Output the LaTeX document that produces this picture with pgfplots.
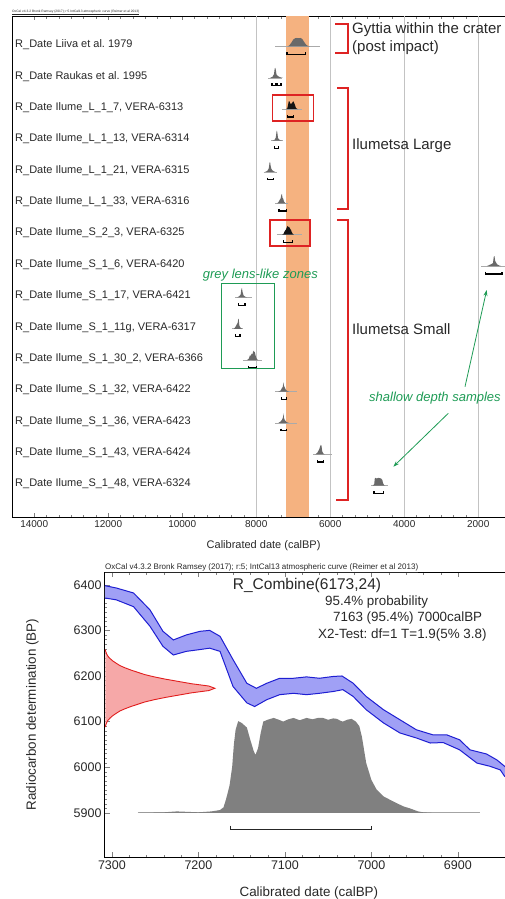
\documentclass[border=0pt]{standalone}
\usepackage{fontspec}
\setmainfont{Liberation Sans}
\usepackage{graphicx}
\usepackage{pgfplots}
\usepackage{pgfplotstable}
\pgfplotsset{compat=1.18}
\usetikzlibrary{arrows.meta}
\frenchspacing
\definecolor{bandorange}{RGB}{245,178,128}
\definecolor{distgray}{RGB}{105,105,105}
\definecolor{basegray}{RGB}{170,170,170}
\definecolor{gridgray}{RGB}{195,195,195}
\definecolor{brred}{RGB}{222,35,35}
\definecolor{grn}{RGB}{30,155,85}
\definecolor{calblue}{RGB}{30,30,210}
\definecolor{calfill}{RGB}{160,160,245}
\definecolor{redline}{RGB}{225,30,30}
\definecolor{redfill}{RGB}{246,168,168}
\definecolor{combgray}{RGB}{128,128,128}
\definecolor{txt}{RGB}{40,40,40}

% calibration band: upper edge (rows 0-32) then lower edge reversed (rows 33-65)
\pgfplotstableread{
x y
7308 6398
7295 6393
7275 6382
7256 6345
7241 6298
7229 6279
7214 6290
7198 6298
7187 6300
7175 6287
7160 6236
7144 6184
7133 6173
7121 6184
7106 6195
7090 6195
7075 6198
7060 6195
7044 6199
7034 6200
7021 6184
7006 6155
6986 6126
6967 6104
6948 6082
6929 6071
6913 6071
6898 6060
6886 6038
6867 6029
6855 6016
6846 6002
6835 5990
6835 5970
6846 5980
6851 5994
6863 6002
6878 6009
6898 6038
6917 6054
6932 6053
6948 6064
6967 6075
6986 6097
7006 6126
7021 6155
7033 6170
7044 6166
7060 6162
7075 6159
7090 6162
7106 6159
7121 6148
7135 6133
7144 6141
7160 6177
7175 6254
7187 6261
7198 6258
7214 6254
7229 6246
7241 6265
7256 6309
7275 6352
7295 6367
7308 6371
}\calband
\pgfplotstableread{
x y
7307.7 6258
7307 6253
7306 6248
7304.5 6243
7302 6238
7299 6233
7295 6228
7291 6223
7285 6218
7278 6213
7270 6208
7262 6203
7251 6198
7238 6193
7223 6188
7208 6183
7188 6178
7181 6173
7188 6168
7208 6163
7223 6158
7238 6153
7251 6148
7262 6143
7270 6138
7278 6133
7285 6128
7291 6123
7295 6118
7299 6113
7302 6108
7304.5 6103
7306 6098
7307 6093
7307.7 6088
}\redd
\pgfplotstableread{
x y
7270 5900
7240 5901
7225 5903
7200 5901
7185 5903
7175 5906
7171 5912
7168 5930
7164 5960
7161 6000
7159 6050
7157 6082
7154 6101
7150 6097
7144 6087
7140 6060
7136 6035
7134 6027
7131 6042
7128 6075
7125 6100
7120 6104
7113 6108
7107 6104
7102 6100
7096 6105
7090 6108
7083 6103
7075 6108
7068 6105
7062 6108
7056 6108
7050 6104
7044 6107
7040 6106
7036 6102
7033 6100
7028 6104
7023 6106
7018 6100
7014 6090
7011 6067
7006 6009
7000 5972
6994 5951
6986 5936
6975 5925
6963 5914
6956 5910
6946 5903
6940 5901
6930 5900
6875 5900
}\comb

\begin{document}
\begin{tikzpicture}[x=1pt,y=1pt,
  dist/.style={fill=distgray, draw=none},
  distk/.style={fill=black!92, draw=none},
  base/.style={basegray, line width=0.6pt},
  brk/.style={black, line width=1.3pt}]
\path[use as bounding box] (0,0) rectangle (505,-899);

% ---------------- top chart ----------------
\begin{axis}[
  at={(12pt,-517pt)}, anchor=south west,
  scale only axis, width=503.2pt, height=501pt,
  x dir=reverse, xmin=1000, xmax=14600,
  y dir=reverse, ymin=0.08, ymax=16.05,
  xtick={2000,4000,6000,8000,10000,12000,14000},
  scaled x ticks=false,
  minor x tick num=5,
  tick align=inside,
  major tick length=4pt, minor tick length=2.5pt,
  x tick label style={font=\fontsize{10}{12}\selectfont, text=txt, /pgf/number format/set thousands separator={}, /pgf/number format/assume math mode=true},
  ytick={1,...,15},
  yticklabels={
    {R\_Date Liiva et al. 1979},
    {R\_Date Raukas et al. 1995},
    {R\_Date Ilume\_L\_1\_7, VERA-6313},
    {R\_Date Ilume\_L\_1\_13, VERA-6314},
    {R\_Date Ilume\_L\_1\_21, VERA-6315},
    {R\_Date Ilume\_L\_1\_33, VERA-6316},
    {R\_Date Ilume\_S\_2\_3, VERA-6325},
    {R\_Date Ilume\_S\_1\_6, VERA-6420},
    {R\_Date Ilume\_S\_1\_17, VERA-6421},
    {R\_Date Ilume\_S\_1\_11g, VERA-6317},
    {R\_Date Ilume\_S\_1\_30\_2, VERA-6366},
    {R\_Date Ilume\_S\_1\_32, VERA-6422},
    {R\_Date Ilume\_S\_1\_36, VERA-6423},
    {R\_Date Ilume\_S\_1\_43, VERA-6424},
    {R\_Date Ilume\_S\_1\_48, VERA-6324}},
  y tick style={draw=none},
  y tick label style={anchor=west, inner sep=0pt, xshift=3pt, font=\fontsize{11}{13}\selectfont, text=txt},
  xlabel={Calibrated date (calBP)},
  xlabel style={font=\fontsize{11}{13}\selectfont, at={(axis description cs:0.5,-0.058)}, anchor=center, text=txt},
  axis line style={line width=0.8pt},
]
\addplot[fill=bandorange, draw=none] coordinates {(7195,0.08) (6575,0.08) (6575,16.05) (7195,16.05)} -- cycle;
\addplot[gridgray, line width=0.7pt] coordinates {(8000,0.08) (8000,16.05)};
\addplot[gridgray, line width=0.7pt] coordinates {(6000,0.08) (6000,16.05)};
\addplot[gridgray, line width=0.7pt] coordinates {(4000,0.08) (4000,16.05)};
\addplot[gridgray, line width=0.7pt] coordinates {(2000,0.08) (2000,16.05)};

% row 1
\addplot[base] coordinates {(7490,1.05) (6270,1.05)};
\addplot[dist] coordinates {(7150,1.05) (7100,1.01) (7050,0.93) (7000,0.834) (6950,0.79) (6900,0.78) (6850,0.788) (6800,0.78) (6750,0.82) (6700,0.915) (6650,0.996) (6600,1.036) (6550,1.05)} -- cycle;
\addplot[brk] coordinates {(7170,1.23) (7170,1.30) (6676,1.30) (6676,1.23)};
% row 2
\addplot[base] coordinates {(7680,2.05) (7300,2.05)};
\addplot[dist] coordinates {(7620,2.05) (7560,2.018) (7520,1.938) (7500,1.762) (7485,1.73) (7470,1.794) (7450,1.954) (7420,1.986) (7380,2.018) (7330,2.04) (7280,2.05)} -- cycle;
\addplot[brk] coordinates {(7576,2.23) (7576,2.30) (7480,2.30) (7480,2.23)};
\addplot[brk] coordinates {(7440,2.23) (7440,2.30) (7332,2.30) (7332,2.23)};
% row 3
\addplot[base] coordinates {(7305,3.05) (6765,3.05)};
\addplot[distk] coordinates {(7200,3.05) (7160,3.024) (7140,2.92) (7120,2.803) (7105,2.79) (7080,2.868) (7060,2.881) (7040,2.868) (7010,2.816) (6990,2.803) (6960,2.894) (6930,2.998) (6900,3.037) (6870,3.05)} -- cycle;
\addplot[brk] coordinates {(7163,3.23) (7163,3.30) (7000,3.30) (7000,3.23)};
% row 4
\addplot[base] coordinates {(7600,4.05) (7280,4.05)};
\addplot[dist] coordinates {(7560,4.05) (7500,4.024) (7470,3.954) (7450,3.762) (7440,3.73) (7425,3.826) (7410,3.97) (7380,4.018) (7340,4.04) (7300,4.05)} -- cycle;
\addplot[brk] coordinates {(7500,4.23) (7500,4.30) (7390,4.30) (7390,4.23)};
% row 5
\addplot[base] coordinates {(7800,5.05) (7450,5.05)};
\addplot[dist] coordinates {(7760,5.05) (7700,5.018) (7660,4.938) (7640,4.762) (7625,4.73) (7610,4.858) (7590,4.954) (7560,5.002) (7520,5.034) (7480,5.05)} -- cycle;
\addplot[brk] coordinates {(7700,5.23) (7700,5.30) (7540,5.30) (7540,5.23)};
% row 6
\addplot[base] coordinates {(7480,6.05) (7150,6.05)};
\addplot[dist] coordinates {(7440,6.05) (7400,6.02) (7360,5.93) (7340,5.90) (7320,5.78) (7305,5.75) (7290,5.87) (7270,5.90) (7250,5.99) (7220,6.035) (7190,6.05)} -- cycle;
\addplot[brk] coordinates {(7380,6.23) (7380,6.30) (7180,6.30) (7180,6.23)};
% row 7
\addplot[base] coordinates {(7440,7.05) (6770,7.05)};
\addplot[distk] coordinates {(7300,7.05) (7260,7.022) (7230,6.938) (7200,6.896) (7175,6.826) (7150,6.77) (7130,6.812) (7110,6.798) (7090,6.854) (7060,6.896) (7040,6.966) (7010,7.028) (6980,7.05)} -- cycle;
\addplot[brk] coordinates {(7260,7.23) (7260,7.30) (7020,7.30) (7020,7.23)};
% row 8
\addplot[base] coordinates {(1920,8.05) (1270,8.05)};
\addplot[dist] coordinates {(1760,8.05) (1700,8.018) (1640,7.986) (1600,7.954) (1580,7.762) (1560,7.73) (1540,7.89) (1510,7.954) (1480,8.002) (1430,8.034) (1380,8.05)} -- cycle;
\addplot[brk] coordinates {(1800,8.23) (1800,8.30) (1360,8.30) (1360,8.23)};
% row 9
\addplot[base] coordinates {(8570,9.05) (8120,9.05)};
\addplot[dist] coordinates {(8520,9.05) (8470,9.02) (8420,8.96) (8400,8.78) (8385,8.75) (8370,8.87) (8340,8.99) (8300,9.026) (8250,9.05)} -- cycle;
\addplot[brk] coordinates {(8470,9.23) (8470,9.30) (8300,9.30) (8300,9.23)};
% row 10
\addplot[base] coordinates {(8650,10.05) (8350,10.05)};
\addplot[dist] coordinates {(8600,10.05) (8560,9.986) (8530,9.922) (8500,9.858) (8485,9.73) (8470,9.762) (8455,9.954) (8420,10.018) (8380,10.05)} -- cycle;
\addplot[brk] coordinates {(8560,10.23) (8560,10.30) (8440,10.30) (8440,10.23)};
% row 11
\addplot[base] coordinates {(8350,11.05) (7850,11.05)};
\addplot[dist] coordinates {(8250,11.05) (8200,11.005) (8170,10.9) (8150,10.915) (8120,10.84) (8100,10.87) (8080,10.75) (8060,10.795) (8040,10.78) (8010,10.93) (7980,11.02) (7940,11.05)} -- cycle;
\addplot[brk] coordinates {(8200,11.23) (8200,11.30) (7990,11.30) (7990,11.23)};
% row 12
\addplot[base] coordinates {(7480,12.05) (6900,12.05)};
\addplot[dist] coordinates {(7400,12.05) (7340,12.02) (7300,11.93) (7280,11.90) (7265,11.75) (7250,11.87) (7230,11.915) (7200,11.99) (7160,12.035) (7120,12.05)} -- cycle;
\addplot[brk] coordinates {(7320,12.23) (7320,12.30) (7180,12.30) (7180,12.23)};
% row 13
\addplot[base] coordinates {(7480,13.05) (6900,13.05)};
\addplot[dist] coordinates {(7400,13.05) (7340,13.005) (7300,12.945) (7275,12.87) (7262,12.75) (7248,12.9) (7225,12.96) (7190,13.014) (7150,13.041) (7110,13.05)} -- cycle;
\addplot[brk] coordinates {(7330,13.23) (7330,13.30) (7190,13.30) (7190,13.23)};
% row 14
\addplot[base] coordinates {(6460,14.05) (5950,14.05)};
\addplot[dist] coordinates {(6400,14.05) (6350,14.005) (6300,13.9) (6275,13.81) (6255,13.75) (6235,13.78) (6215,13.96) (6190,14.02) (6150,14.05)} -- cycle;
\addplot[brk] coordinates {(6340,14.23) (6340,14.30) (6180,14.30) (6180,14.23)};
% row 15
\addplot[base] coordinates {(4900,15.05) (4450,15.05)};
\addplot[dist] coordinates {(4850,15.05) (4810,15.0) (4795,14.825) (4780,14.8) (4740,14.825) (4720,14.8125) (4700,14.8) (4660,14.8125) (4620,14.825) (4590,14.875) (4570,14.975) (4540,15.0375) (4510,15.05)} -- cycle;
\addplot[brk] coordinates {(4820,15.23) (4820,15.30) (4560,15.30) (4560,15.23)};
\end{axis}

% ---------------- bottom chart ----------------
\begin{axis}[
  at={(105pt,-857pt)}, anchor=south west,
  scale only axis, width=439.4pt, height=285pt,
  x dir=reverse, xmin=6800, xmax=7308,
  ymin=5803, ymax=6428,
  xtick={6900,7000,7100,7200,7300},
  ytick={5900,6000,6100,6200,6300,6400},
  minor x tick num=4, minor y tick num=9,
  tick align=inside,
  major tick length=5pt, minor tick length=2.5pt,
  tick label style={font=\fontsize{12.5}{14}\selectfont, text=txt, /pgf/number format/set thousands separator={}, /pgf/number format/assume math mode=true},
  xlabel={Calibrated date (calBP)},
  ylabel={Radiocarbon determination (BP)},
  xlabel style={font=\fontsize{13.4}{15}\selectfont, at={(axis description cs:0.464,-0.126)}, anchor=center, text=txt},
  ylabel style={font=\fontsize{13.4}{15}\selectfont, at={(axis description cs:-0.165,0.5)}, anchor=center, text=txt},
  axis line style={line width=1pt},
]
\addplot[fill=calfill, draw=none] table {\calband} -- cycle;
\addplot[calblue, line width=1pt, skip coords between index={33}{66}] table {\calband};
\addplot[calblue, line width=1pt, skip coords between index={0}{33}] table {\calband};
\addplot[fill=redfill, draw=none] table {\redd} -- cycle;
\addplot[redline, line width=0.9pt] table {\redd};
\addplot[basegray, line width=0.8pt] coordinates {(7270,5900) (6875,5900)};
\addplot[fill=combgray, draw=none] table {\comb} -- cycle;
\addplot[black!85, line width=1.1pt] coordinates {(7163,5872) (7163,5864) (7000,5864) (7000,5872)};
\end{axis}

% ---------------- annotations ----------------
\node[anchor=west, inner sep=0pt, text=txt] at (12,-12.3) {\resizebox{127pt}{!}{\underline{OxCal v4.3.2 Bronk Ramsey (2017); r:5 IntCal13 atmospheric curve (Reimer et al 2013)}}};
\node[anchor=west, inner sep=0pt, text=txt] at (105,-568) {\resizebox{313pt}{!}{\underline{OxCal v4.3.2 Bronk Ramsey (2017); r:5; IntCal13 atmospheric curve (Reimer et al 2013)}}};

\draw[brred, line width=2.4pt] (335,-24.3) -- (348,-24.3) -- (348,-53.3) -- (335,-53.3);
\draw[brred, line width=2.4pt] (337,-88) -- (348,-88) -- (348,-209) -- (337,-209);
\draw[brred, line width=2.4pt] (337,-220) -- (348,-220) -- (348,-500) -- (336,-500);
\draw[brred, line width=1.2pt] (272.7,-95) rectangle (313.3,-121);
\draw[brred, line width=1.2pt] (270,-220) rectangle (310,-246);
\draw[grn, line width=1.2pt] (221.7,-283.3) rectangle (274.3,-368.3);

\begin{scope}[font=\fontsize{15}{17}\selectfont, text=txt]
\node[anchor=west, inner sep=0pt] at (352,-30) {Gyttia within the crater};
\node[anchor=west, inner sep=0pt] at (352,-48) {(post impact)};
\node[anchor=west, inner sep=0pt] at (352,-146) {Ilumetsa Large};
\node[anchor=west, inner sep=0pt] at (352,-329) {Ilumetsa Small};
\end{scope}

\begin{scope}[font=\fontsize{13}{15}\selectfont\itshape, text=grn]
\node[anchor=east, inner sep=0pt] at (318,-275) {grey lens-like zones};
\node[anchor=west, inner sep=0pt] at (369,-398) {shallow depth samples};
\end{scope}
\draw[grn, line width=0.8pt, -{Stealth[length=6pt,width=4pt]}] (465,-386.7) -- (486.7,-290);
\draw[grn, line width=0.8pt, -{Stealth[length=6pt,width=4pt]}] (448.3,-413.3) -- (393.3,-466.7);

\node[inner sep=0pt, text=txt, font=\fontsize{15.5}{17}\selectfont] at (307,-585) {R\_Combine(6173,24)};
\begin{scope}[font=\fontsize{13.4}{15}\selectfont, text=txt]
\node[anchor=west, inner sep=0pt] at (325,-602) {95.4\% probability};
\node[anchor=west, inner sep=0pt] at (333,-618) {7163 (95.4\%) 7000calBP};
\node[anchor=west, inner sep=0pt] at (318,-635) {X2-Test: df=1 T=1.9(5\% 3.8)};
\end{scope}
\end{tikzpicture}
\end{document}
